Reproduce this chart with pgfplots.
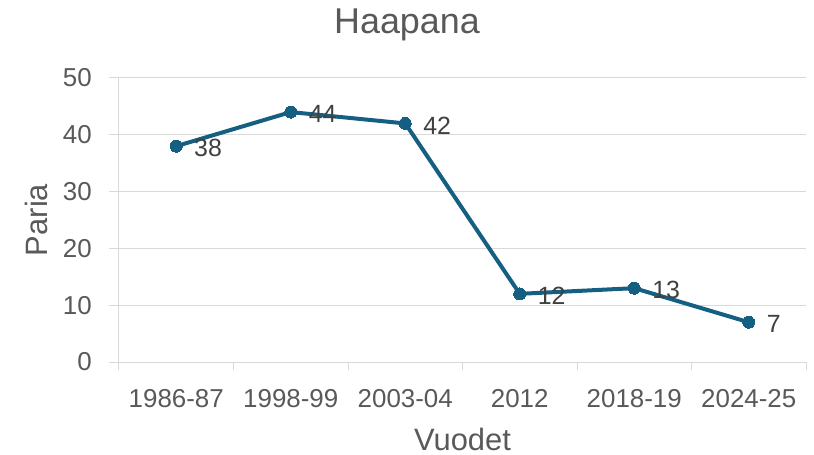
\documentclass[border=0pt]{standalone}
\usepackage{pgfplots}
\pgfplotsset{compat=1.18}
\usepackage{fontspec}
\setmainfont{Liberation Sans}
\definecolor{linec}{HTML}{156082}
\definecolor{gridc}{HTML}{D9D9D9}
\definecolor{txt}{HTML}{595959}
\definecolor{lbl}{HTML}{404040}
\begin{document}
\begin{tikzpicture}
\begin{axis}[
  scale only axis,
  width=687bp, height=284bp,
  xmin=-0.5, xmax=5.5, ymin=0, ymax=50,
  /pgf/number format/assume math mode=true,
  xtick={0,...,5},
  xticklabels={1986-87,1998-99,2003-04,2012,2018-19,2024-25},
  minor xtick={-0.5,0.5,...,5.5},
  ytick={0,10,...,50},
  axis x line*=bottom, axis y line*=left,
  axis line style={gridc, line width=1bp, -},
  ymajorgrids, grid style={gridc, line width=1bp},
  tick align=outside,
  major tick length=10bp, minor tick length=8bp,
  tick style={gridc, line width=1bp},
  every major x tick/.append style={draw=none},
  ticklabel style={font=\fontsize{26}{30}\selectfont, text=txt},
  xticklabel style={anchor=center, inner sep=0pt, yshift=-27bp},
  yticklabel style={anchor=east, inner sep=0pt, xshift=-17bp},
  every axis x label/.style={at={(rel axis cs:0.5,0)}, yshift=-77bp, anchor=center},
  every axis y label/.style={at={(rel axis cs:0,0.5)}, xshift=-83bp, rotate=90, anchor=center},
  label style={font=\fontsize{31}{36}\selectfont, text=txt},
  xlabel={Vuodet}, ylabel={Paria},
  clip=false,
]
\addplot[linec, line width=4bp, mark=*, mark size=6bp,
  mark options={fill=linec, draw=linec, line width=0bp},
  nodes near coords,
  every node near coord/.style={anchor=west, inner sep=0pt, xshift=18bp, yshift=-2bp,
     font=\fontsize{25}{30}\selectfont, text=lbl}]
  coordinates {(0,38) (1,44) (2,42) (3,12) (4,13) (5,7)};
\node[font=\fontsize{36}{40}\selectfont, text=txt] at ([xshift=-55.5bp,yshift=53bp]rel axis cs:0.5,1) {Haapana};
\path ([xshift=-119bp,yshift=-93bp]rel axis cs:0,0) rectangle ([xshift=8bp,yshift=78bp]rel axis cs:1,1);
\end{axis}
\end{tikzpicture}
\end{document}
